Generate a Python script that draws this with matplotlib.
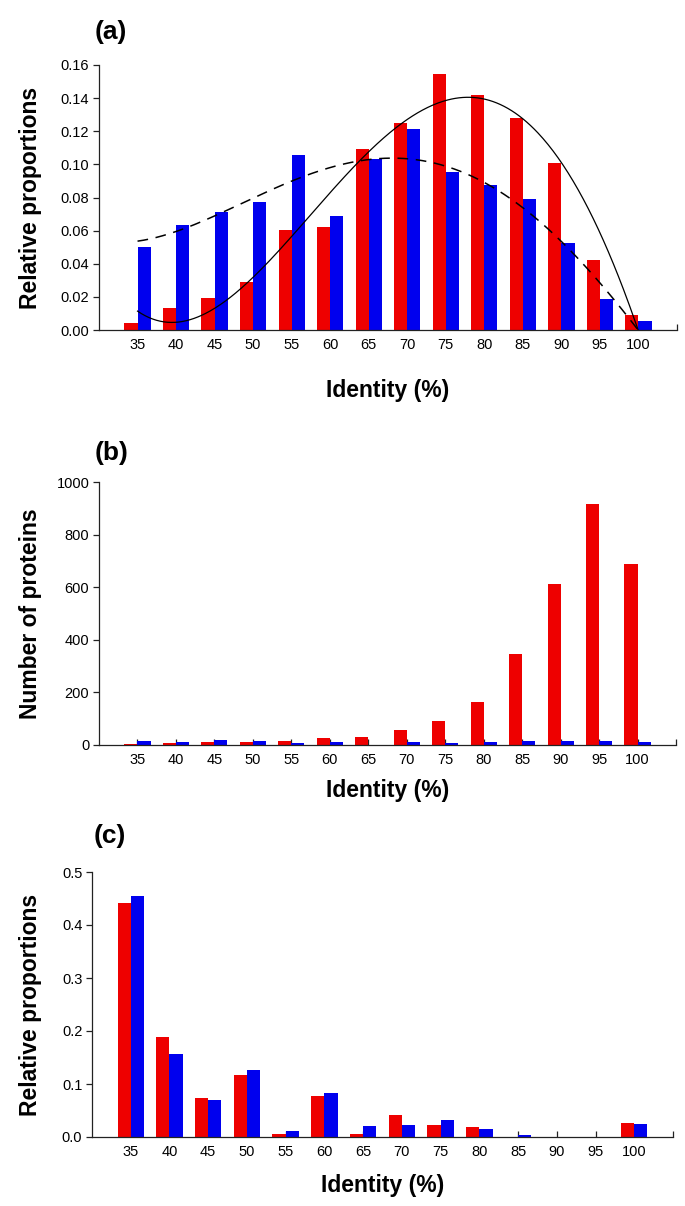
import numpy as np
import matplotlib
matplotlib.use("Agg")
import matplotlib.pyplot as plt

plt.rcParams['font.family'] = ['Liberation Sans', 'DejaVu Sans']

categories = ['35', '40', '45', '50', '55', '60', '65', '70', '75', '80', '85', '90', '95', '100']

a_red = [0.0044, 0.0135, 0.0193, 0.029, 0.0606, 0.0622, 0.1095, 0.125, 0.1546, 0.1419, 0.128, 0.1006, 0.0423, 0.009]
a_blue = [0.0503, 0.0636, 0.071, 0.0771, 0.1057, 0.0686, 0.103, 0.1214, 0.0954, 0.0875, 0.0793, 0.0525, 0.0187, 0.0052]

b_red = [2, 6, 11, 11, 15, 25, 29, 57, 90, 164, 345, 614, 916, 688]
b_blue = [16, 10, 20, 15, 6, 10, 0, 11, 6, 11, 15, 15, 15, 11]

c_red = [0.441, 0.189, 0.073, 0.117, 0.006, 0.078, 0.006, 0.041, 0.023, 0.018, 0.0, 0.0, 0.0, 0.027]
c_blue = [0.455, 0.156, 0.069, 0.126, 0.011, 0.0825, 0.020, 0.022, 0.0315, 0.015, 0.004, 0.0, 0.0, 0.024]

RED = '#EE0000'
BLUE = '#0000EE'

fig = plt.figure(figsize=(6.85, 12.06), dpi=100)

W = 685.0
H = 1206.0


def make_axes(left, right, top, bottom):
    return fig.add_axes([left / W, 1 - bottom / H, (right - left) / W, (bottom - top) / H])


def style(ax, ylim, yticks, fmt, ylabel, xlab_y, ylab_x):
    x = np.arange(len(categories))
    ax.set_xlim(-1.0, 14.0)
    ax.set_ylim(*ylim)
    ax.set_xticks(list(x) + [14.0])
    ax.set_xticklabels(categories + [''])
    ax.set_yticks(yticks)
    ax.set_yticklabels([fmt % v for v in yticks])
    for s in ['top', 'right']:
        ax.spines[s].set_visible(False)
    for s in ['left', 'bottom']:
        ax.spines[s].set_linewidth(0.9)
        ax.spines[s].set_color('#222222')
    ax.tick_params(axis='x', direction='in', length=4.5, width=0.9, pad=5.5, labelsize=10.5, color='#222222')
    ax.tick_params(axis='y', direction='out', length=4, width=0.9, pad=3, labelsize=10.5, color='#222222')
    ax.set_xlabel('Identity (%)', fontsize=16.5, fontweight='bold')
    ax.set_ylabel(ylabel, fontsize=16.5, fontweight='bold')
    ax.xaxis.set_label_coords(0.5, xlab_y)
    ax.yaxis.set_label_coords(ylab_x, 0.5)


def bars(ax, red, blue):
    x = np.arange(len(categories))
    w = 0.34
    ax.bar(x - w / 2, red, width=w, color=RED, linewidth=0, zorder=2)
    ax.bar(x + w / 2, blue, width=w, color=BLUE, linewidth=0, zorder=2)


# (a)
axa = make_axes(99, 677, 65, 330)
bars(axa, a_red, a_blue)
x = np.arange(len(categories))
xs = np.linspace(0, 13, 400)
p_red = np.polyfit(x, a_red, 4)
p_blue = np.polyfit(x, a_blue, 4)
axa.plot(xs, np.polyval(p_red, xs), color='black', lw=0.9, zorder=3)
axa.plot(xs, np.polyval(p_blue, xs), color='black', lw=1.1, ls=(0, (7, 5)), zorder=3)
style(axa, (0, 0.16), np.arange(0, 0.1601, 0.02), '%.2f', 'Relative proportions', -0.185, -0.098)

# (b)
axb = make_axes(99, 676, 482, 745)
bars(axb, b_red, b_blue)
style(axb, (0, 1000), np.arange(0, 1001, 200), '%d', 'Number of proteins', -0.13, -0.099)

# (c)
axc = make_axes(92, 673, 872, 1137)
bars(axc, c_red, c_blue)
style(axc, (0, 0.5), np.arange(0, 0.501, 0.1), '%.1f', 'Relative proportions', -0.14, -0.086)

fig.text(95 / W, 1 - 32 / H, '(a)', fontsize=19, fontweight='bold', ha='left', va='center')
fig.text(95 / W, 1 - 453 / H, '(b)', fontsize=19, fontweight='bold', ha='left', va='center')
fig.text(94 / W, 1 - 836 / H, '(c)', fontsize=19, fontweight='bold', ha='left', va='center')

fig.savefig('out.png', dpi=100)
